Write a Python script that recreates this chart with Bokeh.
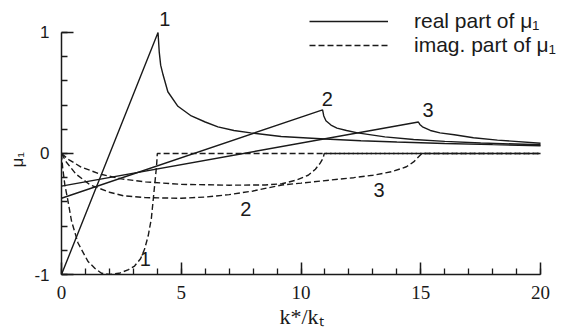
from bokeh.plotting import figure
from bokeh.models import (Range1d, FixedTicker, Label, Legend, LegendItem, Title,
                          PrintfTickFormatter)
from bokeh.embed import file_html
from bokeh.resources import INLINE

# ---- data ----
real1_x = [0, 4.03, 4.08, 4.14, 4.24, 4.44, 4.86, 5.42, 6.0, 6.53, 7.2, 7.9, 9.17, 11.0, 12.5, 14.0, 16.0, 18.0, 20.0]
real1_y = [-1.0, 1.0, 0.84, 0.73, 0.65, 0.51, 0.39, 0.31, 0.26, 0.22, 0.19, 0.17, 0.14, 0.12, 0.105, 0.095, 0.083, 0.073, 0.064]

real2_x = [0, 10.9, 10.95, 11.04, 11.25, 11.5, 11.9, 12.36, 13.5, 14.7, 16.0, 17.5, 20.0]
real2_y = [-0.37, 0.36, 0.31, 0.27, 0.235, 0.21, 0.19, 0.17, 0.137, 0.115, 0.1, 0.087, 0.072]

real3_x = [0, 14.9, 14.96, 15.07, 15.4, 15.8, 16.4, 17.2, 18.2, 20.0]
real3_y = [-0.27, 0.26, 0.24, 0.22, 0.19, 0.17, 0.155, 0.13, 0.11, 0.085]

imag1_x = [0, 0.05, 0.14, 0.25, 0.42, 0.69, 1.1, 1.4, 1.67, 2.0, 2.4, 2.8, 3.05, 3.3, 3.47, 3.62, 3.75, 3.89, 3.97, 4.0, 20.0]
imag1_y = [0, -0.12, -0.26, -0.37, -0.56, -0.74, -0.89, -0.95, -0.99, -1.0, -0.99, -0.96, -0.93, -0.87, -0.79, -0.68, -0.54, -0.26, -0.1, 0, 0]

imag2_x = [0, 0.3, 0.8, 1.6, 2.5, 3.5, 5.0, 7.0, 8.5, 9.2, 9.8, 10.3, 10.6, 10.8, 10.92, 10.97, 20.0]
imag2_y = [0, -0.05, -0.11, -0.17, -0.21, -0.235, -0.255, -0.262, -0.26, -0.25, -0.22, -0.18, -0.13, -0.08, -0.04, 0, 0]

imag3_x = [0, 0.2, 0.6, 1.2, 2.0, 2.6, 3.5, 5.0, 6.0, 7.0, 8.0, 9.2, 10.0, 11.2, 12.2, 13.0, 13.8, 14.4, 14.7, 14.9, 15.05, 20.0]
imag3_y = [0, -0.07, -0.17, -0.26, -0.32, -0.35, -0.365, -0.37, -0.36, -0.34, -0.31, -0.26, -0.245, -0.22, -0.2, -0.18, -0.15, -0.11, -0.07, -0.03, 0, 0]

x_ticks = [0, 5, 10, 15, 20]
y_ticks = [-1, 0, 1]

curve_labels = ["1", "2", "3", "1", "2", "3"]
curve_label_x = [4.31, 11.1, 15.3, 3.5, 7.69, 13.26]
curve_label_y = [1.11, 0.45, 0.36, -0.87, -0.46, -0.30]

legend_labels = ["real part of \u03bc\u2081", "imag. part of \u03bc\u2081"]
x_title = "k*/k\u209c"
y_title = "\u03bc\u2081"

SERIF = "'Liberation Serif', 'Times New Roman', serif"
SANS = "'Liberation Sans', Arial, sans-serif"

# ---- figure ----
p = figure(width=564, height=336, output_backend="svg", toolbar_location=None,
           x_range=Range1d(0, 21), y_range=Range1d(-1, 1.264),
           min_border_left=60, min_border_right=0, min_border_top=0, min_border_bottom=62)
p.xgrid.visible = False
p.ygrid.visible = False
p.outline_line_color = None
p.background_fill_color = "white"
p.border_fill_color = "white"

INK = "#1a1a1a"
LW = 1.4
DASH = "6 3"

r1 = p.line(real1_x, real1_y, line_color=INK, line_width=LW)
p.line(real2_x, real2_y, line_color=INK, line_width=LW)
p.line(real3_x, real3_y, line_color=INK, line_width=LW)
i1 = p.line(imag1_x, imag1_y, line_color=INK, line_width=LW, line_dash=DASH)
p.line(imag2_x, imag2_y, line_color=INK, line_width=LW, line_dash=DASH)
p.line(imag3_x, imag3_y, line_color=INK, line_width=LW, line_dash=DASH)

# axes
for ax in (p.xaxis[0], p.yaxis[0]):
    ax.axis_line_color = INK
    ax.axis_line_width = 1.5
    ax.major_tick_in = 12
    ax.major_tick_out = 0
    ax.minor_tick_in = 6
    ax.minor_tick_out = 0
    ax.major_tick_line_color = INK
    ax.minor_tick_line_color = INK
    ax.major_tick_line_width = 1.5
    ax.minor_tick_line_width = 1.3
    ax.major_label_text_color = INK
    ax.formatter = PrintfTickFormatter(format="%d")

p.xaxis.bounds = (0, 20)
p.yaxis.bounds = (-1, 1)
p.xaxis.ticker = FixedTicker(ticks=x_ticks, minor_ticks=[v for v in range(0, 21)])
p.yaxis.ticker = FixedTicker(ticks=y_ticks, minor_ticks=[round(-1 + 0.2 * k, 1) for k in range(11)])
p.xaxis.major_label_text_font = SERIF
p.xaxis.major_label_text_font_size = "19px"
p.xaxis.major_label_standoff = 11
p.yaxis.major_label_text_font = SANS
p.yaxis.major_label_text_font_size = "17px"
p.yaxis.major_label_standoff = 12

# axis titles
p.add_layout(Title(text=x_title, align="left", offset=218, standoff=0,
                   text_font=SERIF, text_font_size="22px", text_font_style="normal",
                   text_color=INK), "below")
p.add_layout(Title(text=y_title, align="left", offset=107, standoff=10,
                   text_font=SANS, text_font_size="17px", text_font_style="normal",
                   text_color=INK), "left")

# curve labels
for t, x, y in zip(curve_labels, curve_label_x, curve_label_y):
    p.add_layout(Label(x=x, y=y, text=t, text_font=SANS, text_font_size="20px",
                       text_align="center", text_baseline="middle", text_color=INK))

legend = Legend(items=[LegendItem(label=legend_labels[0], renderers=[r1]),
                       LegendItem(label=legend_labels[1], renderers=[i1])],
                location=(248, 217), glyph_width=79, glyph_height=20, label_height=20,
                spacing=0, label_standoff=26, padding=0, margin=0,
                border_line_alpha=0, background_fill_alpha=0,
                label_text_font=SANS, label_text_font_size="21px",
                label_text_line_height=1.1,
                label_text_color=INK)
p.add_layout(legend)

open("out.html", "w").write(file_html(p, INLINE))
